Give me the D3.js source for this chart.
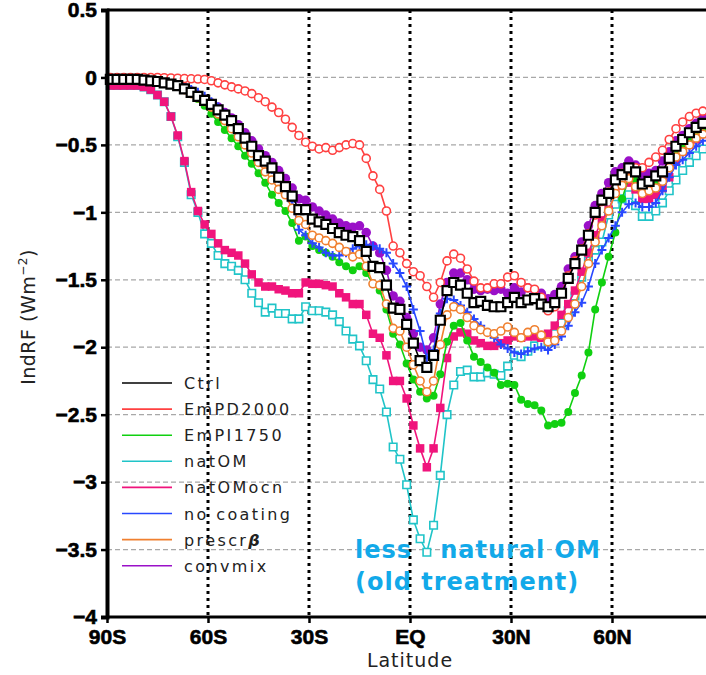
<!DOCTYPE html>
<html>
<head>
<meta charset="utf-8">
<script src="https://cdn.jsdelivr.net/npm/d3@7"></script>
<style>
  body { margin: 0; background: #fff; }
  svg { display: block; }
</style>
</head>
<body>
<div id="chart"></div>
<script>
// latitude grid (deg)
const lats = [-89,-87,-85,-83,-81,-79,-77,-75,-73,-71,
  -69,-67,-65,-63,-61,-59,-57,-55,-53,-51,
  -49,-47,-45,-43,-41,-39,-37,-35,-33,-31,
  -29,-27,-25,-23,-21,-19,-17,-15,-13,-11,
  -9,-7,-5,-3,-1,1,3,5,7,9,
  11,13,15,17,19,21,23,25,27,29,
  31,33,35,37,39,41,43,45,47,49,
  51,53,55,57,59,61,63,65,67,69,
  71,73,75,77,79,81,83,85,87];

const ctrl = [-0.015,-0.015,-0.015,-0.015,-0.015,-0.02,-0.025,-0.03,-0.04,-0.05,
  -0.06,-0.085,-0.11,-0.14,-0.17,-0.2,-0.24,-0.28,-0.32,-0.38,
  -0.45,-0.51,-0.58,-0.62,-0.67,-0.74,-0.81,-0.88,-0.98,-0.98,
  -1.05,-1.07,-1.09,-1.12,-1.15,-1.17,-1.18,-1.21,-1.29,-1.40,
  -1.41,-1.54,-1.71,-1.72,-1.83,-1.97,-2.10,-2.15,-2.06,-1.80,
  -1.58,-1.52,-1.54,-1.60,-1.67,-1.66,-1.69,-1.70,-1.70,-1.67,
  -1.63,-1.67,-1.65,-1.64,-1.68,-1.70,-1.67,-1.60,-1.49,-1.38,
  -1.28,-1.17,-1.00,-0.91,-0.86,-0.76,-0.72,-0.67,-0.70,-0.79,
  -0.77,-0.73,-0.70,-0.60,-0.51,-0.46,-0.41,-0.37,-0.34];

const emPD2000 = [0,0,0,0,0,0,0,0,-0.002,-0.004,
  -0.006,-0.008,-0.01,-0.012,-0.015,-0.025,-0.04,-0.055,-0.07,-0.085,
  -0.1,-0.12,-0.15,-0.18,-0.22,-0.26,-0.31,-0.37,-0.43,-0.48,
  -0.51,-0.53,-0.52,-0.54,-0.52,-0.50,-0.49,-0.50,-0.60,-0.73,
  -0.83,-0.99,-1.25,-1.30,-1.38,-1.44,-1.47,-1.55,-1.63,-1.52,
  -1.36,-1.31,-1.34,-1.42,-1.51,-1.56,-1.56,-1.53,-1.53,-1.48,
  -1.47,-1.52,-1.56,-1.57,-1.63,-1.73,-1.70,-1.60,-1.47,-1.36,
  -1.27,-1.16,-1.02,-0.92,-0.85,-0.76,-0.71,-0.68,-0.67,-0.67,
  -0.63,-0.59,-0.54,-0.46,-0.38,-0.33,-0.29,-0.265,-0.25];

const emPI1750 = [-0.015,-0.015,-0.015,-0.015,-0.015,-0.02,-0.025,-0.03,-0.04,-0.05,
  -0.065,-0.09,-0.12,-0.16,-0.21,-0.27,-0.33,-0.39,-0.45,-0.51,
  -0.58,-0.64,-0.71,-0.78,-0.87,-0.93,-0.99,-1.08,-1.21,-1.18,
  -1.25,-1.28,-1.30,-1.33,-1.37,-1.40,-1.43,-1.40,-1.45,-1.53,
  -1.58,-1.72,-1.90,-1.98,-2.12,-2.24,-2.33,-2.38,-2.36,-2.20,
  -1.96,-1.84,-1.82,-1.95,-2.07,-2.11,-2.15,-2.19,-2.28,-2.27,
  -2.28,-2.39,-2.42,-2.43,-2.47,-2.58,-2.57,-2.56,-2.48,-2.34,
  -2.21,-2.04,-1.72,-1.52,-1.33,-1.15,-0.90,-0.74,-0.76,-0.84,
  -0.82,-0.78,-0.75,-0.66,-0.56,-0.51,-0.46,-0.42,-0.39];

const natOM = [-0.06,-0.06,-0.06,-0.06,-0.06,-0.07,-0.09,-0.13,-0.18,-0.29,
  -0.44,-0.63,-0.87,-1.00,-1.16,-1.23,-1.32,-1.38,-1.40,-1.43,
  -1.50,-1.60,-1.67,-1.74,-1.71,-1.75,-1.75,-1.79,-1.79,-1.70,
  -1.73,-1.73,-1.74,-1.76,-1.81,-1.88,-1.94,-1.99,-2.10,-2.24,
  -2.31,-2.48,-2.74,-2.83,-3.02,-3.28,-3.42,-3.52,-3.32,-2.95,
  -2.50,-2.28,-2.18,-2.17,-2.22,-2.22,-2.19,-2.20,-2.21,-2.14,
  -2.06,-2.07,-2.03,-1.99,-1.98,-1.96,-1.90,-1.82,-1.73,-1.62,
  -1.48,-1.36,-1.28,-1.22,-1.02,-0.94,-0.90,-0.87,-0.95,-1.03,
  -1.03,-0.99,-0.93,-0.84,-0.76,-0.69,-0.63,-0.58,-0.53];

const natOMocn = [-0.06,-0.06,-0.06,-0.06,-0.06,-0.07,-0.09,-0.13,-0.18,-0.29,
  -0.43,-0.62,-0.85,-0.99,-1.09,-1.16,-1.23,-1.28,-1.30,-1.32,
  -1.38,-1.46,-1.52,-1.55,-1.55,-1.57,-1.58,-1.60,-1.60,-1.52,
  -1.53,-1.53,-1.54,-1.55,-1.60,-1.63,-1.68,-1.68,-1.76,-1.90,
  -1.93,-2.06,-2.25,-2.25,-2.38,-2.58,-2.75,-2.89,-2.75,-2.45,
  -2.08,-1.92,-1.89,-1.90,-1.95,-1.97,-1.99,-1.99,-1.97,-1.95,
  -1.92,-1.93,-1.92,-1.92,-1.93,-1.90,-1.84,-1.76,-1.68,-1.58,
  -1.44,-1.30,-1.17,-1.06,-0.98,-0.86,-0.80,-0.78,-0.83,-0.90,
  -0.90,-0.87,-0.82,-0.74,-0.62,-0.55,-0.50,-0.46,-0.42];

const noCoating = [-0.015,-0.015,-0.015,-0.015,-0.015,-0.02,-0.02,-0.025,-0.03,-0.04,
  -0.05,-0.07,-0.09,-0.11,-0.14,-0.18,-0.22,-0.27,-0.32,-0.38,
  -0.44,-0.51,-0.57,-0.62,-0.68,-0.75,-0.83,-0.92,-1.13,-1.17,
  -1.23,-1.26,-1.30,-1.32,-1.32,-1.30,-1.27,-1.25,-1.24,-1.25,
  -1.27,-1.30,-1.38,-1.45,-1.55,-1.72,-1.88,-2.08,-2.02,-1.75,
  -1.64,-1.65,-1.69,-1.74,-1.79,-1.84,-1.89,-1.93,-1.98,-2.01,
  -2.04,-2.05,-2.03,-2.01,-2.00,-2.02,-1.98,-1.92,-1.84,-1.74,
  -1.67,-1.55,-1.38,-1.28,-1.19,-1.10,-1.00,-0.94,-0.93,-0.96,
  -0.96,-0.93,-0.84,-0.74,-0.65,-0.61,-0.56,-0.51,-0.47];

const prescrBeta = [-0.015,-0.015,-0.015,-0.015,-0.015,-0.02,-0.025,-0.03,-0.04,-0.05,
  -0.06,-0.09,-0.12,-0.15,-0.18,-0.22,-0.27,-0.32,-0.38,-0.44,
  -0.50,-0.56,-0.63,-0.70,-0.76,-0.83,-0.87,-0.97,-1.06,-1.09,
  -1.17,-1.19,-1.21,-1.23,-1.26,-1.29,-1.33,-1.31,-1.40,-1.53,
  -1.54,-1.68,-1.86,-1.88,-2.00,-2.13,-2.25,-2.33,-2.25,-1.98,
  -1.76,-1.70,-1.72,-1.78,-1.84,-1.87,-1.89,-1.90,-1.88,-1.85,
  -1.89,-1.93,-1.89,-1.87,-1.91,-1.96,-1.95,-1.88,-1.78,-1.68,
  -1.55,-1.38,-1.22,-1.10,-0.99,-0.86,-0.80,-0.75,-0.81,-0.86,
  -0.84,-0.82,-0.77,-0.67,-0.59,-0.55,-0.50,-0.45,-0.42];

const convmix = [-0.015,-0.015,-0.015,-0.015,-0.015,-0.02,-0.02,-0.025,-0.035,-0.045,
  -0.05,-0.075,-0.10,-0.13,-0.16,-0.19,-0.22,-0.26,-0.30,-0.35,
  -0.41,-0.47,-0.53,-0.58,-0.63,-0.69,-0.75,-0.82,-0.90,-0.91,
  -0.96,-0.99,-1.02,-1.05,-1.08,-1.10,-1.11,-1.10,-1.15,-1.25,
  -1.30,-1.43,-1.62,-1.66,-1.78,-1.90,-2.00,-2.02,-1.93,-1.68,
  -1.52,-1.45,-1.45,-1.50,-1.57,-1.58,-1.57,-1.58,-1.57,-1.60,
  -1.56,-1.59,-1.56,-1.58,-1.60,-1.64,-1.61,-1.55,-1.42,-1.33,
  -1.22,-1.10,-0.95,-0.86,-0.78,-0.70,-0.67,-0.62,-0.65,-0.73,
  -0.71,-0.69,-0.62,-0.55,-0.47,-0.43,-0.38,-0.34,-0.30];

const yTicks = [0.5, 0, -0.5, -1, -1.5, -2, -2.5, -3, -3.5, -4];
const xTicks = [-90, -60, -30, 0, 30, 60];
const xTickLabels = ["90S", "60S", "30S", "EQ", "30N", "60N"];

// legend order, top to bottom
const series = [
    { name: "Ctrl",        vals: ctrl,       color: "#000000", mark: "square", filled: false, size: 9 },
    { name: "EmPD2000",    vals: emPD2000,   color: "#ff4040", mark: "circle", filled: false, size: 8 },
    { name: "EmPI1750",    vals: emPI1750,   color: "#10d010", mark: "circle", filled: true,  size: 8 },
    { name: "natOM",       vals: natOM,      color: "#20c4c8", mark: "square", filled: false, size: 7.5 },
    { name: "natOMocn",    vals: natOMocn,   color: "#f0147c", mark: "square", filled: true,  size: 8.5 },
    { name: "no coating",  vals: noCoating,  color: "#2848ff", mark: "plus",   filled: false, size: 9 },
    { name: "prescr",      vals: prescrBeta, color: "#f08030", mark: "circle", filled: false, size: 8 },
    { name: "convmix",     vals: convmix,    color: "#9a10c8", mark: "circle", filled: true,  size: 9.5 }
];
// drawing order (last on top)
const drawOrder = ["natOM", "natOMocn", "EmPI1750", "convmix", "no coating", "prescr", "EmPD2000", "Ctrl"];

const width = 706;
const height = 675;
const svg = d3.select("#chart")
    .append("svg")
    .attr("width", width)
    .attr("height", height);

const x = d3.scaleLinear().domain([-90, 90]).range([107, 713]);
const y = d3.scaleLinear().domain([-4, 0.5]).range([617, 10]);

// dashed horizontal grid
svg.append("g")
    .selectAll("line")
    .data(yTicks.filter(d => d < 0.5 && d > -4))
    .enter()
    .append("line")
    .attr("x1", x(-90)).attr("x2", width)
    .attr("y1", d => y(d)).attr("y2", d => y(d))
    .attr("stroke", "#a8a8a8")
    .attr("stroke-width", 1.3)
    .attr("stroke-dasharray", "5,3");

// dotted vertical grid
svg.append("g")
    .selectAll("line")
    .data(xTicks.filter(d => d > -90 && d < 90))
    .enter()
    .append("line")
    .attr("x1", d => x(d)).attr("x2", d => x(d))
    .attr("y1", y(0.5)).attr("y2", y(-4))
    .attr("stroke", "#000")
    .attr("stroke-width", 3)
    .attr("stroke-dasharray", "3,4");

// legend
const legend = svg.append("g").attr("transform", "translate(122, 383)");
series.forEach((s, i) => {
    const row = legend.append("g").attr("transform", `translate(0, ${i * 26.1})`);
    row.append("line")
        .attr("x1", 0).attr("x2", 50)
        .attr("stroke", s.color)
        .attr("stroke-width", 1.6);
    const t = row.append("text")
        .attr("x", 62).attr("y", 6)
        .style("font-family", "DejaVu Sans, sans-serif")
        .style("font-size", "16px")
        .style("letter-spacing", "2.4px")
        .attr("fill", "#222")
        .text(s.name);
    if (s.name === "prescr") {
        t.append("tspan")
            .style("font-style", "italic")
            .style("font-weight", "bold")
            .text("\u03b2");
    }
});

// series lines and markers
const line = d3.line()
    .x((d, i) => x(lats[i]))
    .y(d => y(d));

const sq = d3.symbol().type(d3.symbolSquare);
const circ = d3.symbol().type(d3.symbolCircle);

drawOrder.forEach(name => {
    const s = series.find(d => d.name === name);
    const g = svg.append("g");
    g.append("path")
        .datum(s.vals)
        .attr("d", line)
        .attr("fill", "none")
        .attr("stroke", s.color)
        .attr("stroke-width", 1.6);

    const pts = g.selectAll("path.m")
        .data(s.vals)
        .enter()
        .append("path")
        .attr("class", "m")
        .attr("transform", (d, i) => `translate(${x(lats[i])},${y(d)})`);

    if (s.mark === "plus") {
        const h = s.size / 2;
        pts.attr("d", `M${-h},0H${h}M0,${-h}V${h}`)
            .attr("fill", "none")
            .attr("stroke", s.color)
            .attr("stroke-width", 2);
    } else {
        const gen = s.mark === "square" ? sq : circ;
        const area = s.mark === "square" ? s.size * s.size : Math.PI * (s.size / 2) * (s.size / 2);
        pts.attr("d", gen.size(area)())
            .attr("fill", s.filled ? s.color : "#fff")
            .attr("stroke", s.color)
            .attr("stroke-width", s.filled ? 0 : (name === "Ctrl" ? 2.2 : 1.6));
    }
});

// axes
const yAxis = d3.axisLeft(y)
    .tickValues(yTicks)
    .tickSize(6)
    .tickPadding(4)
    .tickFormat(d => (d < 0 ? "\u2212" : "") + Math.abs(d));

const gy = svg.append("g")
    .attr("transform", `translate(${x(-90)},0)`)
    .call(yAxis);
gy.select(".domain").attr("stroke-width", 4);
gy.selectAll(".tick line").attr("stroke-width", 2.5);
gy.selectAll("text")
    .style("font-family", "Liberation Sans, Arial, sans-serif")
    .style("font-weight", "bold")
    .style("font-size", "21px")
    .attr("fill", "#000")
    .attr("stroke", "#000")
    .attr("stroke-width", 0.6);

const xAxis = d3.axisBottom(x)
    .tickValues(xTicks)
    .tickSize(6)
    .tickPadding(6)
    .tickFormat((d, i) => xTickLabels[i]);

const gx = svg.append("g")
    .attr("transform", `translate(0,${y(-4)})`)
    .call(xAxis);
gx.select(".domain").attr("d", `M${x(-90)},0H${width}`).attr("stroke-width", 3);
gx.selectAll(".tick line").attr("stroke-width", 2.5);
gx.selectAll("text")
    .style("font-family", "Liberation Sans, Arial, sans-serif")
    .style("font-weight", "bold")
    .style("font-size", "21px")
    .attr("fill", "#000")
    .attr("stroke", "#000")
    .attr("stroke-width", 0.6);

// top frame
svg.append("line")
    .attr("x1", x(-90)).attr("x2", width)
    .attr("y1", y(0.5)).attr("y2", y(0.5))
    .attr("stroke", "#000")
    .attr("stroke-width", 3);

// axis titles
svg.append("text")
    .attr("x", 410).attr("y", 667)
    .attr("text-anchor", "middle")
    .style("font-family", "DejaVu Sans, sans-serif")
    .style("font-size", "19px")
    .style("letter-spacing", "1px")
    .attr("fill", "#222")
    .text("Latitude");

const yl = svg.append("text")
    .attr("transform", "translate(35, 317) rotate(-90)")
    .attr("text-anchor", "middle")
    .style("font-family", "DejaVu Sans, sans-serif")
    .style("font-size", "19px")
    .style("letter-spacing", "0.5px")
    .attr("fill", "#222");
yl.append("tspan").text("IndRF  (Wm");
yl.append("tspan").attr("dy", -8).style("font-size", "12px").text("\u22122");
yl.append("tspan").attr("dy", 8).text(")");

// annotation
const note = svg.append("text")
    .style("font-family", "DejaVu Sans, sans-serif")
    .style("font-weight", "bold")
    .style("font-size", "24px")
    .style("letter-spacing", "1px")
    .style("white-space", "pre")
    .attr("fill", "#12a9e9");
note.append("tspan").attr("x", 355).attr("y", 558).text("less   natural OM");
note.append("tspan").attr("x", 355).attr("y", 590).text("(old treatment)");
</script>
</body>
</html>
